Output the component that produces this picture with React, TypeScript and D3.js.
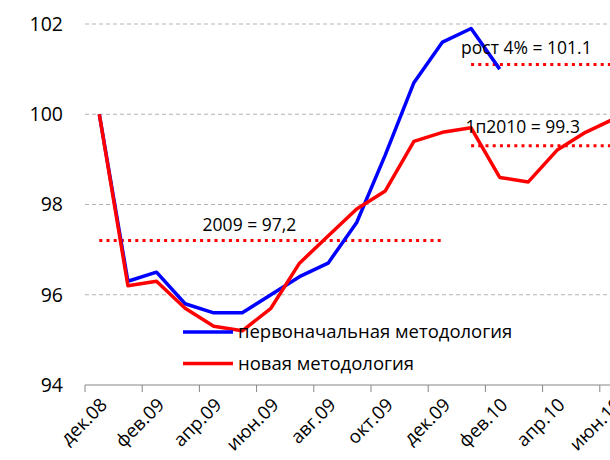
import React, { useRef, useEffect } from 'react';
import * as d3 from 'd3';

// months on the category axis (chart runs past the right edge)
const months = [
  'дек.08', 'янв.09', 'фев.09', 'мар.09', 'апр.09', 'май.09', 'июн.09', 'июл.09',
  'авг.09', 'сен.09', 'окт.09', 'ноя.09', 'дек.09', 'янв.10', 'фев.10', 'мар.10',
  'апр.10', 'май.10', 'июн.10', 'июл.10',
];

const originalMethod = [100, 96.3, 96.5, 95.8, 95.6, 95.6, 96.0, 96.4, 96.7, 97.6, 99.1, 100.7, 101.6, 101.9, 101.0];
const newMethod = [100, 96.2, 96.3, 95.7, 95.3, 95.2, 95.7, 96.7, 97.3, 97.9, 98.3, 99.4, 99.6, 99.7, 98.6, 98.5, 99.2, 99.6, 99.9];

const yTicks = [94, 96, 98, 100, 102];
const seriesNames = ['первоначальная методология', 'новая методология'];

// horizontal reference levels: label, value, first month, last month
const refLines = [
  { label: '2009 = 97,2', value: 97.2, from: 'дек.08', to: 'дек.09', labelAt: 5.25, labelY: 97.55, anchor: 'middle' },
  { label: 'рост 4% = 101.1', value: 101.1, from: 'янв.10', to: 'июл.10', labelAt: 12.65, labelY: 101.47, anchor: 'start' },
  { label: '1п2010 = 99.3', value: 99.3, from: 'янв.10', to: 'июл.10', labelAt: 12.8, labelY: 99.72, anchor: 'start' },
];

const FONT = '"Open Sans", sans-serif';

const App = () => {
  const svgRef = useRef<SVGSVGElement>(null);

  useEffect(() => {
    const svg = d3.select(svgRef.current);
    svg.selectAll('*').remove();

    const width = 610;
    const plotLeft = 85;
    const monthWidth = 28.6;

    const x = d3.scaleBand()
      .domain(months)
      .range([plotLeft, plotLeft + monthWidth * months.length]);
    const cx = (i: number) => (x(months[0]) as number) + x.bandwidth() * (i + 0.5);

    const y = d3.scaleLinear().domain([94, 102]).range([385, 24]);

    // gridlines
    svg.append('g')
      .selectAll('line')
      .data(yTicks.slice(1))
      .join('line')
      .attr('x1', plotLeft)
      .attr('x2', width)
      .attr('y1', d => y(d))
      .attr('y2', d => y(d))
      .attr('stroke', '#b3b3b3')
      .attr('stroke-width', 1)
      .attr('stroke-dasharray', '4,3');

    // y labels
    svg.append('g')
      .selectAll('text')
      .data(yTicks)
      .join('text')
      .attr('x', 63)
      .attr('y', d => y(d))
      .attr('dy', '0.35em')
      .attr('text-anchor', 'end')
      .attr('font-family', FONT)
      .attr('font-size', 19.5)
      .attr('fill', '#000')
      .text(d => d);

    // x axis
    const axis = svg.append('g');
    axis.append('line')
      .attr('x1', plotLeft)
      .attr('x2', width)
      .attr('y1', y(94))
      .attr('y2', y(94))
      .attr('stroke', '#868686')
      .attr('stroke-width', 1);

    const shown = months.filter((_, i) => i % 2 === 0);
    axis.selectAll('.tick')
      .data(shown)
      .join('line')
      .attr('class', 'tick')
      .attr('x1', d => x(d) as number)
      .attr('x2', d => x(d) as number)
      .attr('y1', y(94))
      .attr('y2', y(94) + 7)
      .attr('stroke', '#868686');

    axis.selectAll('.lbl')
      .data(shown)
      .join('text')
      .attr('class', 'lbl')
      .attr('transform', d => `translate(${(x(d) as number) + x.bandwidth() / 2 + 9},${y(94) + 21}) rotate(-45)`)
      .attr('text-anchor', 'end')
      .attr('font-family', FONT)
      .attr('font-size', 18.5)
      .attr('fill', '#000')
      .text(d => d);

    // reference lines
    refLines.forEach(r => {
      svg.append('line')
        .attr('x1', cx(months.indexOf(r.from)))
        .attr('x2', cx(months.indexOf(r.to)))
        .attr('y1', y(r.value))
        .attr('y2', y(r.value))
        .attr('stroke', '#ff0000')
        .attr('stroke-width', 3)
        .attr('stroke-dasharray', '3,4.2');
    });

    // series lines (red drawn on top, as in the original)
    const line = d3.line<number>()
      .x((_, i) => cx(i))
      .y(d => y(d));

    svg.append('path')
      .datum(originalMethod)
      .attr('fill', 'none')
      .attr('stroke', '#0000ff')
      .attr('stroke-width', 3.5)
      .attr('stroke-linejoin', 'round')
      .attr('d', line);

    svg.append('path')
      .datum(newMethod)
      .attr('fill', 'none')
      .attr('stroke', '#ff0000')
      .attr('stroke-width', 3.5)
      .attr('stroke-linejoin', 'round')
      .attr('d', line);

    // annotations
    refLines.forEach(r => {
      svg.append('text')
        .attr('x', cx(r.labelAt))
        .attr('y', y(r.labelY))
        .attr('dy', '0.35em')
        .attr('text-anchor', r.anchor)
        .attr('font-family', FONT)
        .attr('font-size', 17.5)
        .attr('fill', '#000')
        .text(r.label);
    });

    // legend
    const legend = svg.append('g');
    seriesNames.forEach((name, i) => {
      const ly = 332 + i * 31.5;
      legend.append('line')
        .attr('x1', 183)
        .attr('x2', 233)
        .attr('y1', ly)
        .attr('y2', ly)
        .attr('stroke', i === 0 ? '#0000ff' : '#ff0000')
        .attr('stroke-width', 3.5);
      legend.append('text')
        .attr('x', 238)
        .attr('y', ly)
        .attr('dy', '0.35em')
        .attr('font-family', FONT)
        .attr('font-size', 18.5)
        .attr('fill', '#000')
        .text(name);
    });
  }, []);

  return (
    <svg ref={svgRef} width={610} height={460} style={{ position: 'absolute', left: 0, top: 0, background: '#fff' }} />
  );
};

export default App;
